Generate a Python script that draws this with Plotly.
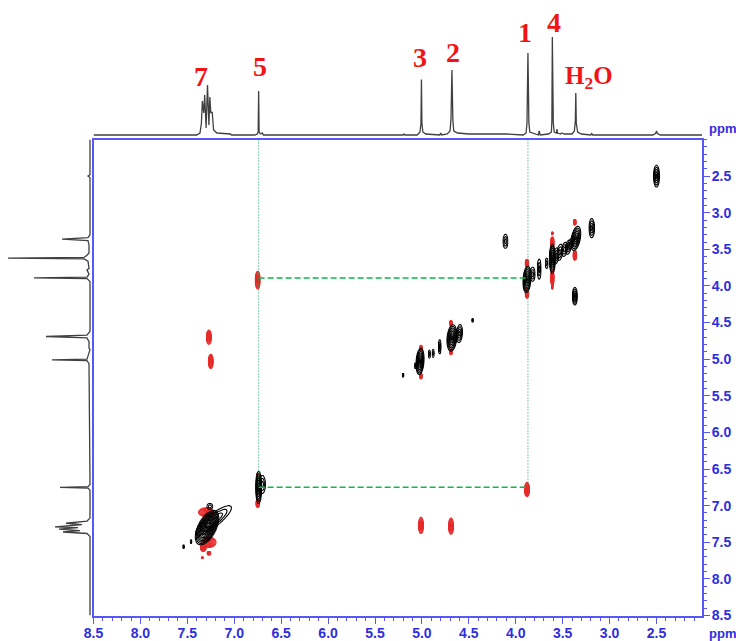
import numpy as np
import plotly.graph_objects as go

W, H = 736, 641
BLUE = "#5858f4"
TXT = "#2e2ee0"
RED = "#e62a2a"
INK = "#404040"

tick_values = [2.5, 3.0, 3.5, 4.0, 4.5, 5.0, 5.5, 6.0, 6.5, 7.0, 7.5, 8.0, 8.5]
tick_labels = ["2.5", "3.0", "3.5", "4.0", "4.5", "5.0", "5.5", "6.0", "6.5", "7.0", "7.5", "8.0", "8.5"]

# Top 1H projection: chemical shift (ppm) and intensity
top_ppm = [8.50, 7.40, 7.365, 7.35, 7.34, 7.325, 7.315, 7.30, 7.285, 7.27, 7.26, 7.25, 7.235, 7.22, 7.185, 7.04, 7.03,
           6.78, 6.755, 6.745, 6.74, 6.735, 6.72, 6.70, 6.69,
           5.20, 5.19, 5.18, 5.05, 5.02, 5.01, 5.005, 5.00, 4.99, 4.96, 4.81, 4.80, 4.79,
           4.73, 4.70, 4.69, 4.68, 4.67, 4.66, 4.62, 4.50, 4.10, 3.92,
           3.89, 3.88, 3.87, 3.86, 3.85, 3.80, 3.76, 3.75, 3.74, 3.65,
           3.62, 3.615, 3.61, 3.60, 3.59, 3.565, 3.56, 3.555, 3.52, 3.51, 3.48,
           3.40, 3.375, 3.365, 3.36, 3.355, 3.34, 3.30, 3.20, 3.19, 3.18,
           2.54, 2.51, 2.50, 2.49, 2.46, 2.015]
top_intensity = [0, 0, 2, 12, 34, 22, 40, 7, 50, 10, 38, 22, 23, 5, 2, 1, 0,
                 0, 1, 3, 44, 3, 1, 2, 0,
                 0, 1, 0, 0, 3, 12, 55.5, 12, 3, 1, 0, 2, 0,
                 1, 4, 16, 65, 14, 4, 2, 1, 1, 0,
                 2, 12, 82, 12, 3, 1, 0, 4, 0, 1,
                 3, 14, 98, 12, 3, 2, 6, 2, 1, 2, 1,
                 1, 4, 14, 42, 12, 3, 1, 0, 1.5, 0,
                 0, 1.5, 4, 1.5, 0, 0]

# Left 1H projection: chemical shift (ppm) and intensity
left_ppm = [2.00, 2.48, 2.50, 2.52, 3.30, 3.34, 3.36, 3.38, 3.44, 3.55, 3.58, 3.61, 3.62, 3.63, 3.66, 3.76, 3.78, 3.84, 3.88,
            3.89, 3.90, 3.94, 4.62, 4.67, 4.69, 4.71, 4.76, 4.85, 4.87, 4.96, 5.00,
            5.01, 5.02, 5.06, 6.71, 6.74, 6.75, 6.76, 6.79, 7.17, 7.21, 7.24, 7.26, 7.29, 7.30, 7.32, 7.34,
            7.36, 7.38, 7.42, 8.50]
left_intensity = [0, 0, 2, 0, 0, 2, 28, 2, 1, 1, 3, 6, 82, 6, 2, 1, 3, 1, 3,
                  56, 3, 0, 0, 3, 44, 3, 1, 1, 0, 2, 3,
                  38, 3, 1, 0, 2, 30, 2, 0, 0, 3, 24, 8, 35, 12, 31, 10,
                  27, 3, 0, 0]

# Positive contour peaks: F2 ppm, F1 ppm, half-widths, tilt, contour rings
black_x = [2.50, 3.19, 4.11, 3.37, 3.88, 3.82, 3.75, 3.67, 3.61, 3.57, 3.53, 3.48, 3.44, 3.41, 3.36,
           5.02, 5.07, 4.92, 4.88, 4.81, 4.68, 4.60, 4.46, 5.20,
           6.74, 6.70, 7.29, 7.22, 7.26, 7.54, 7.46]
black_y = [2.50, 3.21, 3.39, 4.14, 3.91, 3.84, 3.77, 3.69, 3.63, 3.59, 3.54, 3.50, 3.47, 3.42, 3.35,
           5.03, 5.09, 4.93, 4.92, 4.83, 4.71, 4.65, 4.47, 5.22,
           6.75, 6.71, 7.30, 7.20, 7.01, 7.56, 7.49]
black_rx = [.032, .030, .027, .027, .043, .027, .021, .016, .032, .032, .032, .032, .032, .032, .053,
            .043, .011, .013, .013, .016, .053, .032, .011, .011,
            .032, .032, .125, .190, .032, .011, .011]
black_ry = [.150, .130, .096, .120, .180, .096, .137, .070, .200, .110, .110, .096, .096, .070, .164,
            .180, .041, .055, .055, .096, .180, .123, .027, .027,
            .220, .123, .235, .200, .041, .027, .027]
black_rho = [0, 0, 0, 0, .2, 0, 0, 0, 0, .3, .3, .3, .3, .3, .4,
             .2, 0, 0, 0, 0, .2, .2, 0, 0,
             0, 0, .55, .85, 0, 0, 0]
black_rings = [5, 4, 3, 5, 8, 3, 3, 2, 7, 3, 3, 3, 3, 2, 7,
               8, 2, 2, 2, 3, 8, 4, 2, 2,
               7, 3, 12, 4, 2, 2, 2]

# Negative contour peaks
red_x = [6.75, 7.27, 7.25, 5.01, 4.69, 3.88, 3.88, 3.88, 3.61, 3.61, 3.61, 3.61, 3.37, 3.37,
         5.01, 5.01, 4.69, 4.69, 6.75, 6.75, 7.30, 7.27, 7.33, 7.27, 7.34]
red_y = [3.92, 4.70, 5.03, 7.27, 7.28, 6.78, 3.69, 4.10, 3.41, 3.28, 3.89, 3.99, 3.13, 3.58,
         4.85, 5.23, 4.51, 4.90, 6.60, 6.97, 7.09, 7.50, 7.57, 7.65, 7.71]
red_rx = [.027, .027, .027, .027, .027, .027, .021, .021, .021, .011, .021, .011, .016, .021,
          .016, .016, .016, .016, .016, .021, .080, .075, .032, .021, .011]
red_ry = [.120, .096, .096, .110, .110, .096, .055, .068, .082, .021, .096, .055, .041, .068,
          .041, .041, .041, .041, .041, .055, .060, .070, .055, .027, .014]

# Correlation guide lines
guide_f2 = [6.74, 3.87]
guide_f1 = [3.89, 6.75]

fig = go.Figure()


def add_peak(cx, cy, rx, ry, rho, rings, color, width):
    xs = np.linspace(cx - 1.2 * rx, cx + 1.2 * rx, 37)
    ys = np.linspace(cy - 1.2 * ry, cy + 1.2 * ry, 37)
    u, v = np.meshgrid((xs - cx) / rx, (ys - cy) / ry)
    q = np.sqrt(np.maximum((u * u + v * v - 2 * rho * u * v) / (1 - rho * rho), 0))
    fig.add_trace(go.Contour(
        x=xs, y=ys, z=q, showscale=False, hoverinfo="skip", autocontour=False,
        contours=dict(start=1 / rings, end=1, size=1 / rings, coloring="lines"),
        colorscale=[[0, color], [1, color]], line=dict(width=width, smoothing=1),
        xaxis="x", yaxis="y"))


for i in range(len(red_x)):
    add_peak(red_x[i], red_y[i], red_rx[i], red_ry[i], 0, 7, RED, 1.2)
for i in range(len(black_x)):
    add_peak(black_x[i], black_y[i], black_rx[i], black_ry[i], black_rho[i], black_rings[i], "#000000", 1.1)

# Guide lines
for f2 in guide_f2:
    fig.add_trace(go.Scatter(x=[f2, f2], y=[2.0, guide_f1[1]], mode="lines", hoverinfo="skip",
                             line=dict(color="#0f9c58", width=1, dash="1px,2px"), xaxis="x", yaxis="y"))
for f1 in guide_f1:
    fig.add_trace(go.Scatter(x=guide_f2, y=[f1, f1], mode="lines", hoverinfo="skip",
                             line=dict(color="#0cba4a", width=1.5, dash="6px,3px"), xaxis="x", yaxis="y"))

# Projections
fig.add_trace(go.Scatter(x=top_ppm, y=top_intensity, mode="lines", hoverinfo="skip",
                         line=dict(color=INK, width=1.3), xaxis="x2", yaxis="y2"))
fig.add_trace(go.Scatter(x=left_intensity, y=left_ppm, mode="lines", hoverinfo="skip",
                         line=dict(color=INK, width=1.3), xaxis="x3", yaxis="y3"))

dom_x = [93.5 / W, 702 / W]
dom_y = [(H - 615.5) / H, (H - 139.5) / H]
tickfont = dict(family="Liberation Sans, Arial", size=14, color=TXT, weight="bold")
minor = dict(dtick=0.1, tick0=2.0, ticks="outside", ticklen=3, tickcolor=BLUE, tickwidth=1)

fig.update_layout(
    width=W, height=H, autosize=False, margin=dict(l=0, r=0, t=0, b=0, pad=0, autoexpand=False),
    paper_bgcolor="white", plot_bgcolor="white", showlegend=False,
    xaxis=dict(domain=dom_x, range=[8.5, 2.015], anchor="y", tickmode="array", tickvals=tick_values,
               ticktext=tick_labels, ticks="outside", ticklen=6, tickwidth=1, tickcolor=BLUE,
               showline=True, linecolor=BLUE, linewidth=2, mirror=True, showgrid=False, zeroline=False,
               automargin=False, tickfont=tickfont, minor=minor, ticklabelstandoff=-2),
    yaxis=dict(domain=dom_y, range=[8.5, 2.0], anchor="x", side="right", tickmode="array", tickvals=tick_values,
               ticktext=tick_labels, ticks="outside", ticklen=6, tickwidth=1, tickcolor=BLUE,
               showline=True, linecolor=BLUE, linewidth=2, mirror=True, showgrid=False, zeroline=False,
               automargin=False, tickfont=tickfont, minor=minor, ticklabelstandoff=-1),
    xaxis2=dict(domain=dom_x, range=[8.5, 2.015], anchor="y2", visible=False),
    yaxis2=dict(domain=[(H - 138) / H, 1], range=[-3, 135], anchor="x2", visible=False),
    xaxis3=dict(domain=[0, 91 / W], range=[90, -1], anchor="y3", visible=False),
    yaxis3=dict(domain=dom_y, range=[8.5, 2.0], anchor="x3", visible=False),
)

labels = [("7", 201, 76), ("5", 260, 66), ("3", 420, 57), ("2", 453, 53), ("1", 525, 32), ("4", 554, 22),
          ("H<sub>2</sub>O", 589, 77)]
for text, px, py in labels:
    fig.add_annotation(text=text, x=px / W, y=1 - py / H, xref="paper", yref="paper", showarrow=False,
                       font=dict(family="Liberation Serif", size=28 if len(text) == 1 else 25, color="#f01414",
                                 weight="bold"),
                       xanchor="center", yanchor="middle")
for px, py in [(722, 128), (722, 633)]:
    fig.add_annotation(text="ppm", x=px / W, y=1 - py / H, xref="paper", yref="paper", showarrow=False,
                       font=tickfont | dict(size=13), xanchor="center", yanchor="middle")

fig.write_html("out.html", config={"displayModeBar": False},
               post_script="document.body.style.margin='0';document.documentElement.style.overflow='hidden';")
